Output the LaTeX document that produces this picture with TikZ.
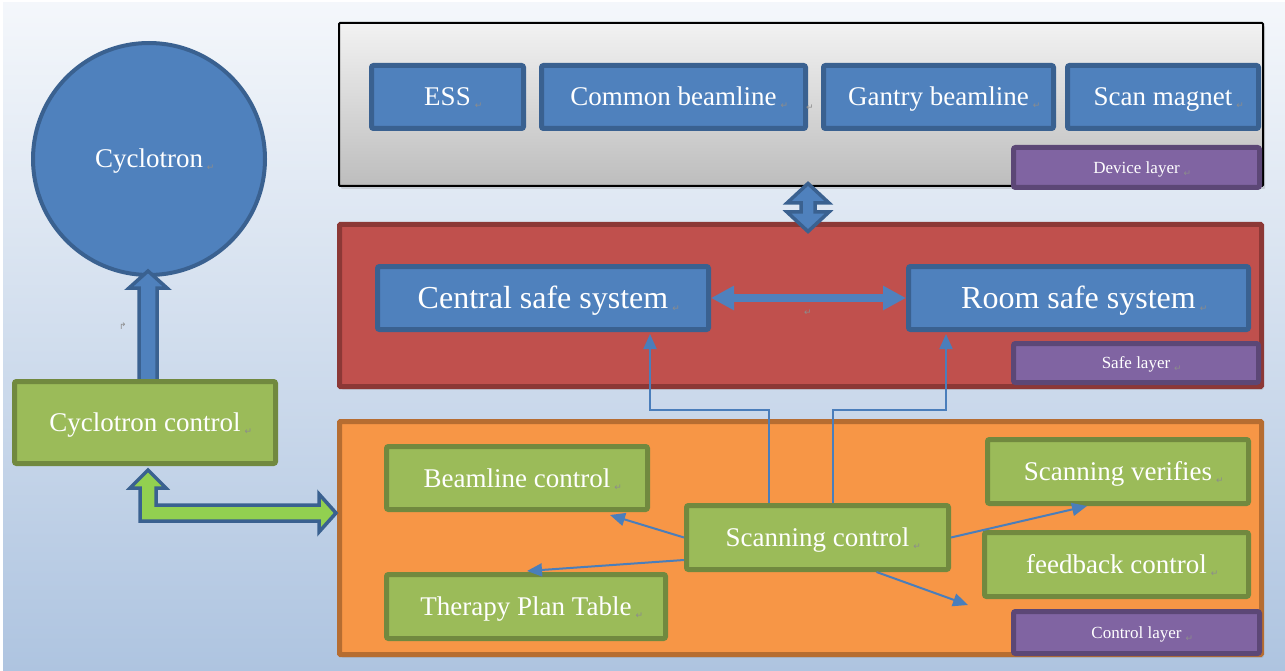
\documentclass[tikz,border=0pt]{standalone}
\usepackage{fontspec}
\setmainfont{Liberation Serif}
\newfontfamily\djv{DejaVu Sans}
\usetikzlibrary{arrows.meta,calc,shadows}
\definecolor{bgtop}{HTML}{F4F7FB}
\definecolor{bgbot}{HTML}{AEC4E0}
\definecolor{devtop}{HTML}{F2F2F2}
\definecolor{devbot}{HTML}{BDBDBD}
\definecolor{cblue}{HTML}{4F81BD}
\definecolor{cblueD}{HTML}{3A6190}
\definecolor{cgreen}{HTML}{9BBB59}
\definecolor{cgreenD}{HTML}{71893F}
\definecolor{cred}{HTML}{C0504D}
\definecolor{credD}{HTML}{8C3836}
\definecolor{corange}{HTML}{F79646}
\definecolor{corangeD}{HTML}{B66D31}
\definecolor{cpurple}{HTML}{8064A2}
\definecolor{cpurpleD}{HTML}{5C4776}
\definecolor{carrow}{HTML}{4A7EBB}
\definecolor{clime}{HTML}{92D050}
\definecolor{retgray}{HTML}{8C8C8C}
\newcommand{\pmk}{\rlap{\smash{\hspace{4pt}\raisebox{-3pt}{\djv\fontsize{9}{9}\selectfont\color{retgray}↵}}}}
\tikzset{
  layerbox/.style={draw, line width=5pt, inner sep=0pt, rounded corners=1pt,
    drop shadow={shadow xshift=2pt, shadow yshift=-3pt, opacity=0.25}},
  boxbase/.style={draw, line width=5pt, rounded corners=2pt, inner sep=0pt,
    text=white, font=\fontsize{27}{30}\selectfont, text height=18pt, text depth=0pt},
  bigtext/.style={font=\fontsize{32}{36}\selectfont, text height=21pt},
  bluebox/.style={boxbase, fill=cblue, draw=cblueD},
  greenbox/.style={boxbase, fill=cgreen, draw=cgreenD},
  labelbox/.style={boxbase, fill=cpurple, draw=cpurpleD, font=\fontsize{17}{20}\selectfont, text height=11.5pt},
  thinarr/.style={draw=carrow, line width=2pt, -{Triangle[length=15pt,width=13pt]}},
  blockarr/.style={line width=3.5pt, line join=miter, draw=cblueD},
  retmark/.style={text=retgray, font=\djv\fontsize{9}{9}\selectfont, inner sep=0pt}
}
\begin{document}
\begin{tikzpicture}[x={(1pt,0pt)}, y={(0pt,-1pt)}]
\path[use as bounding box] (0,0) rectangle (1285,671);
\fill[white] (0,0) rectangle (1285,671);
\shade[top color=bgtop, bottom color=bgbot] (3,3) rectangle (1285,671);

% layers
\node[layerbox, draw=black, line width=2pt, top color=devtop, bottom color=devbot,
  minimum width=924pt, minimum height=163pt] (dev) at (801,104.5) {};
\node[layerbox, fill=cred, draw=credD, minimum width=922pt, minimum height=162pt] (safe) at (800.5,305.5) {};
\node[layerbox, fill=corange, draw=corangeD, minimum width=922pt, minimum height=233pt] (ctl) at (800.5,538) {};

% device layer boxes
\node[bluebox, minimum width=152pt, minimum height=63pt] (ess) at (447.5,97) {ESS\pmk};
\node[bluebox, minimum width=264pt, minimum height=63pt] (cbl) at (673.5,97) {Common beamline\pmk};
\node[bluebox, minimum width=230pt, minimum height=63pt] (gbl) at (938.5,97) {Gantry beamline\pmk};
\node[bluebox, minimum width=191pt, minimum height=63pt] (smag) at (1163,97) {Scan magnet\pmk};
\node[labelbox, minimum width=246pt, minimum height=40pt] (devl) at (1136.5,167.5) {Device layer\pmk};
\node[retmark] (rm1) at (810,108) {↵};

% safe layer boxes
\node[bluebox, bigtext, minimum width=331pt, minimum height=63pt] (cs) at (543,298) {Central safe system\pmk};
\node[bluebox, bigtext, minimum width=340pt, minimum height=63pt] (rs) at (1078.5,298) {Room safe system\pmk};
\node[labelbox, minimum width=245pt, minimum height=39pt] (safel) at (1136,363) {Safe layer\pmk};
\node[retmark] (rm2) at (808,313) {↵};
\draw[line width=8pt, draw=cblue, {Triangle[length=23pt,width=23pt]}-{Triangle[length=23pt,width=23pt]}] (cs.east) -- (rs.west);

% control layer boxes
\node[greenbox, minimum width=261pt, minimum height=63pt] (bc) at (517,478) {Beamline control\pmk};
\node[greenbox, minimum width=279pt, minimum height=64pt] (tp) at (526,606.5) {Therapy Plan Table\pmk};
\node[greenbox, minimum width=262pt, minimum height=64pt] (sc) at (817.5,537.5) {Scanning control\pmk};
\node[greenbox, minimum width=261pt, minimum height=64pt] (sv) at (1118,471.5) {Scanning verifies\pmk};
\node[greenbox, minimum width=264pt, minimum height=64pt] (fc) at (1116.5,564.5) {feedback control\pmk};
\node[labelbox, minimum width=246pt, minimum height=42pt] (ctll) at (1136.5,632.5) {Control layer\pmk};

% thin connectors
\draw[thinarr] (sc.west) -- ($(bc.south east)+(-40,3)$);
\draw[thinarr] ($(sc.west)+(0,22.5)$) -- ($(tp.north)+(1,-1)$);
\draw[thinarr] (sc.east) -- ($(sv.south)+(-31,0)$);
\draw[thinarr] ($(sc.south)+(59,0)$) -- ($(fc.south west)+(-14,6)$);
\draw[thinarr] ($(sc.north)+(-48.5,0)$) |- ($(cs.south)+(107,78)$) -- ($(cs.south)+(107,2)$);
\draw[thinarr] ($(sc.north)+(15.5,0)$) |- ($(rs.south)+(-132.5,78)$) -- ($(rs.south)+(-132.5,2)$);

% device <-> safe block arrow
\begin{scope}[shift={(808,207.5)}]
\draw[blockarr, fill=cblue] (0,-24) -- (21,-4.5) -- (7,-4.5) -- (7,4.5) -- (21,4.5) -- (0,24)
  -- (-21,4.5) -- (-7,4.5) -- (-7,-4.5) -- (-21,-4.5) -- cycle;
\end{scope}

% left part
\node[circle, draw=cblueD, fill=cblue, line width=4pt, minimum size=232pt, inner sep=0pt,
  text=white, font=\fontsize{27}{30}\selectfont, text height=18pt, text depth=0pt] (cyc) at (149,159) {Cyclotron\pmk};
\draw[blockarr, fill=cblue] (148,271) -- (167,288) -- (157,288) -- (157,381) -- (139,381)
  -- (139,288) -- (129,288) -- cycle;
\node[greenbox, minimum width=261pt, minimum height=82pt] (cc) at (145,422.5) {Cyclotron control\pmk};
\node[retmark] (rm3) at (123,326) {↱};
\draw[blockarr, fill=clime] (148,470) -- (166,488) -- (156,488) -- (156,505) -- (319,505)
  -- (319,494) -- (336,513) -- (319,532) -- (319,521) -- (140,521) -- (140,488) -- (130,488) -- cycle;
\end{tikzpicture}
\end{document}
